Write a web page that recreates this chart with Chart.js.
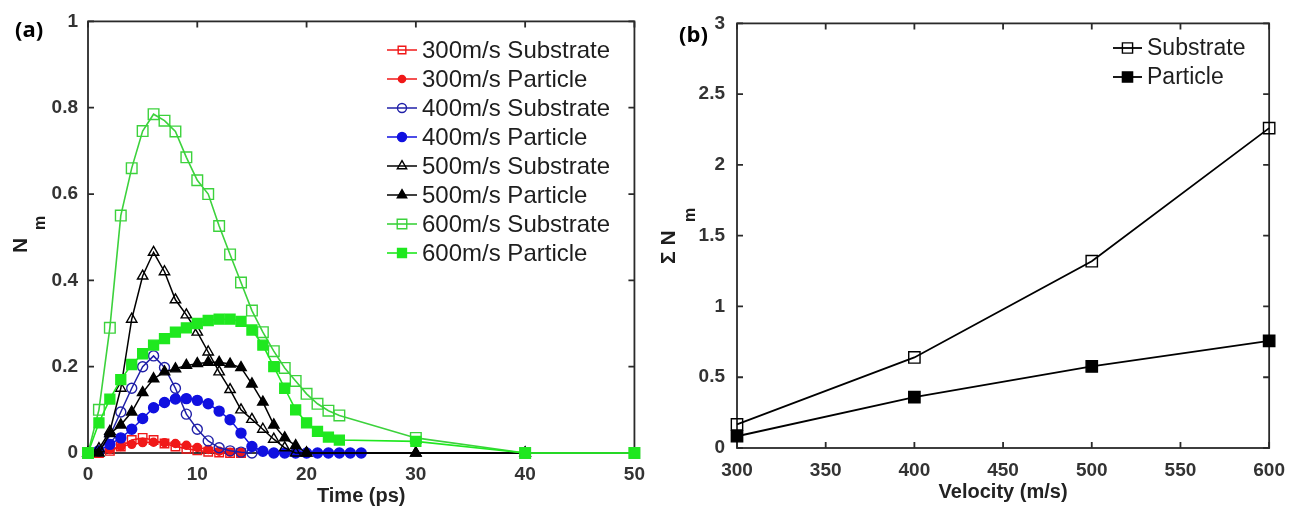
<!DOCTYPE html>
<html>
<head>
<meta charset="utf-8">
<script src="https://cdn.jsdelivr.net/npm/chart.js@4.4.1/dist/chart.umd.min.js"></script>
<style>
  html, body { margin: 0; padding: 0; background: #fff; }
  #wrap { position: relative; width: 1296px; height: 512px; overflow: hidden; }
  canvas { position: absolute; top: 0; }
  #chartA { left: 0; }
  #chartB { left: 655px; }
  .tag { position: absolute; font: bold 22px 'Open Sans', sans-serif; line-height: 22px; color: #000; }
</style>
</head>
<body>
<div id="wrap">
  <canvas id="chartA" width="655" height="512"></canvas>
  <canvas id="chartB" width="641" height="512"></canvas>
  <div class="tag" style="left:15px; top:17px;">(a)</div>
  <div class="tag" style="left:679px; top:22px;">(b)</div>
</div>
<script>
// (a) Nm vs time, one list of times per series
const time300 = [0, 1, 2, 3, 4, 5, 6, 7, 8, 9, 10, 11, 12, 13, 14];
const sub300 = [0, 0, 0.005, 0.015, 0.03, 0.035, 0.03, 0.022, 0.015, 0.01, 0.006, 0.003, 0.001, 0, 0];
const par300 = [0, 0, 0.008, 0.015, 0.02, 0.024, 0.025, 0.024, 0.022, 0.018, 0.013, 0.008, 0.004, 0.002, 0];

const time400sub = [0, 1, 2, 3, 4, 5, 6, 7, 8, 9, 10, 11, 12, 13, 14, 15];
const sub400 = [0, 0.005, 0.04, 0.095, 0.15, 0.2, 0.225, 0.198, 0.15, 0.09, 0.055, 0.028, 0.012, 0.005, 0.002, 0];
const time400par = [0, 1, 2, 3, 4, 5, 6, 7, 8, 9, 10, 11, 12, 13, 14, 15, 16, 17, 18, 19, 20, 21, 22, 23, 24, 25];
const par400 = [0, 0.005, 0.02, 0.035, 0.055, 0.08, 0.105, 0.117, 0.125, 0.126, 0.122, 0.114, 0.097, 0.077, 0.046, 0.015, 0.004, 0, 0, 0, 0, 0, 0, 0, 0, 0];

const time500 = [0, 1, 2, 3, 4, 5, 6, 7, 8, 9, 10, 11, 12, 13, 14, 15, 16, 17, 18, 19, 20, 30, 40];
const sub500 = [0, 0.01, 0.05, 0.15, 0.31, 0.41, 0.465, 0.42, 0.355, 0.32, 0.28, 0.234, 0.188, 0.147, 0.1, 0.078, 0.055, 0.032, 0.012, 0, 0, 0, 0];
const par500 = [0, 0, 0.045, 0.065, 0.095, 0.14, 0.172, 0.188, 0.195, 0.203, 0.207, 0.21, 0.21, 0.206, 0.198, 0.16, 0.118, 0.065, 0.035, 0.017, 0, 0, 0];

const time600 = [0, 1, 2, 3, 4, 5, 6, 7, 8, 9, 10, 11, 12, 13, 14, 15, 16, 17, 18, 19, 20, 21, 22, 23, 30, 40, 50];
const sub600 = [0, 0.1, 0.29, 0.55, 0.66, 0.746, 0.785, 0.77, 0.745, 0.685, 0.632, 0.6, 0.526, 0.46, 0.395, 0.33, 0.28, 0.236, 0.197, 0.167, 0.137, 0.114, 0.098, 0.087, 0.035, 0, 0];
const par600 = [0, 0.07, 0.125, 0.17, 0.205, 0.23, 0.25, 0.265, 0.28, 0.29, 0.3, 0.307, 0.31, 0.31, 0.305, 0.285, 0.25, 0.2, 0.15, 0.1, 0.07, 0.05, 0.037, 0.03, 0.027, 0, 0];

// (b) summed Nm vs velocity
const velocity = [300, 400, 500, 600];
const sumSub = [0.167, 0.64, 1.32, 2.26];
const sumPar = [0.083, 0.36, 0.576, 0.757];

const FONT = "'Liberation Sans', Arial, sans-serif";
const tickFont = { family: FONT, size: 19, weight: 'bold' };
const NONE = 'rgba(0,0,0,0)';

const pts = (xs, ys) => xs.map((x, i) => ({ x: x, y: ys[i] }));

function series(label, xs, ys, color, style, r, filled, order, lw) {
  return {
    label: label,
    data: pts(xs, ys),
    showLine: true,
    borderColor: color,
    borderWidth: lw,
    pointStyle: style,
    pointRadius: r,
    pointHoverRadius: r,
    pointBorderWidth: 1.4,
    pointBorderColor: color,
    pointBackgroundColor: filled ? color : NONE,
    tension: 0,
    clip: false,
    order: order
  };
}

function marker(ctx, style, x, y, r, fill, stroke, bw) {
  ctx.beginPath();
  if (style === 'rect') {
    const s = r * Math.SQRT1_2;
    ctx.rect(x - s, y - s, 2 * s, 2 * s);
  } else if (style === 'triangle') {
    for (let k = 0; k < 3; k++) {
      const a = k * 2 * Math.PI / 3;
      ctx.lineTo(x + Math.sin(a) * r, y - Math.cos(a) * r);
    }
    ctx.closePath();
  } else {
    ctx.arc(x, y, r, 0, Math.PI * 2);
  }
  if (fill !== NONE) { ctx.fillStyle = fill; ctx.fill(); }
  ctx.lineWidth = bw;
  ctx.strokeStyle = stroke;
  ctx.stroke();
}

// box around the plot with inward ticks on all four sides (matlab look)
const boxTicks = {
  id: 'boxTicks',
  beforeDatasetsDraw(chart) {
    const { ctx, chartArea: a, scales: { x, y } } = chart;
    ctx.save();
    ctx.strokeStyle = '#2a2a2a';
    ctx.lineWidth = 1.8;
    ctx.strokeRect(a.left, a.top, a.right - a.left, a.bottom - a.top);
    ctx.beginPath();
    x.ticks.forEach(t => {
      const px = x.getPixelForValue(t.value);
      ctx.moveTo(px, a.bottom); ctx.lineTo(px, a.bottom - 6);
      ctx.moveTo(px, a.top); ctx.lineTo(px, a.top + 6);
    });
    y.ticks.forEach(t => {
      const py = y.getPixelForValue(t.value);
      ctx.moveTo(a.left, py); ctx.lineTo(a.left + 6, py);
      ctx.moveTo(a.right, py); ctx.lineTo(a.right - 6, py);
    });
    ctx.stroke();
    ctx.restore();
  }
};

// legend: short line with marker, then label
const lineLegend = {
  id: 'lineLegend',
  afterDraw(chart, args, opts) {
    const ctx = chart.ctx;
    ctx.save();
    ctx.font = opts.size + 'px ' + FONT;
    ctx.textBaseline = 'middle';
    ctx.textAlign = 'left';
    chart.data.datasets.forEach((ds, i) => {
      const yy = opts.y + i * opts.dy;
      ctx.beginPath();
      ctx.moveTo(opts.x, yy);
      ctx.lineTo(opts.x + opts.w, yy);
      ctx.lineWidth = ds.borderWidth;
      ctx.strokeStyle = ds.borderColor;
      ctx.stroke();
      marker(ctx, ds.pointStyle, opts.x + opts.w / 2, yy, ds.pointRadius * 0.9,
        ds.pointBackgroundColor, ds.pointBorderColor, ds.pointBorderWidth);
      ctx.fillStyle = '#1e1e1e';
      ctx.fillText(ds.label, opts.x + opts.w + 5, yy + 1);
    });
    ctx.restore();
  }
};

// rotated y title with subscript m
const yTitle = {
  id: 'yTitle',
  afterDraw(chart, args, opts) {
    const ctx = chart.ctx;
    ctx.save();
    ctx.translate(opts.x, opts.y);
    ctx.rotate(-Math.PI / 2);
    ctx.fillStyle = '#1e1e1e';
    ctx.textAlign = 'left';
    ctx.textBaseline = 'alphabetic';
    ctx.font = 'bold 21px ' + FONT;
    ctx.fillText(opts.text, 0, 0);
    ctx.font = 'bold 16px ' + FONT;
    ctx.fillText('m', opts.subX, opts.subY);
    ctx.restore();
  }
};

// matlab style labels: 1 not 1.0, 2.5 stays 2.5
const shortNum = v => String(Number(v.toFixed(2)));

function axes(xMin, xMax, xStep, yMin, yMax, yStep, xTitle, yWidth, xHeight, xPad, yPad, titlePad) {
  return {
    x: {
      type: 'linear', min: xMin, max: xMax,
      ticks: { stepSize: xStep, font: tickFont, color: '#333', padding: xPad, maxRotation: 0, callback: shortNum },
      grid: { display: false, drawTicks: false },
      border: { display: false },
      title: { display: true, text: xTitle, color: '#222',
        font: { family: FONT, size: 20, weight: 'bold' }, padding: { top: 0, bottom: titlePad } },
      afterFit(s) { s.height = xHeight; }
    },
    y: {
      type: 'linear', min: yMin, max: yMax,
      ticks: { stepSize: yStep, font: tickFont, color: '#333', padding: yPad, callback: shortNum },
      grid: { display: false, drawTicks: false },
      border: { display: false },
      afterFit(s) { s.width = yWidth; }
    }
  };
}

const RED = '#f01818', BLUE_O = '#2020a8', BLUE_F = '#1010e0', BLACK = '#000000', GREEN_O = '#3cd23c', GREEN_F = '#1fe81f';

new Chart(document.getElementById('chartA'), {
  type: 'scatter',
  data: {
    datasets: [
      series('300m/s Substrate', time300, sub300, RED, 'rect', 6, false, 8, 1.5),
      series('300m/s Particle', time300, par300, RED, 'circle', 4, true, 7, 1.5),
      series('400m/s Substrate', time400sub, sub400, BLUE_O, 'circle', 5, false, 6, 1.5),
      series('400m/s Particle', time400par, par400, BLUE_F, 'circle', 5, true, 5, 1.5),
      series('500m/s Substrate', time500, sub500, BLACK, 'triangle', 6, false, 4, 1.5),
      series('500m/s Particle', time500, par500, BLACK, 'triangle', 6, true, 3, 1.5),
      series('600m/s Substrate', time600, sub600, GREEN_O, 'rect', 7.5, false, 2, 1.6),
      series('600m/s Particle', time600, par600, GREEN_F, 'rect', 7, true, 1, 1.6)
    ]
  },
  options: {
    responsive: false,
    devicePixelRatio: 1,
    animation: false,
    layout: { padding: { left: 0, top: 16, right: 15, bottom: 0 } },
    scales: axes(0, 50, 10, 0, 1, 0.2, 'Time (ps)', 88, 59, 10, 10, 4),
    plugins: {
      legend: { display: false },
      tooltip: { enabled: false },
      lineLegend: { x: 387, y: 50, dy: 29, w: 30, size: 24 },
      yTitle: { text: 'N', x: 27, y: 253, subX: 23, subY: 18 }
    }
  },
  plugins: [boxTicks, lineLegend, yTitle]
});

new Chart(document.getElementById('chartB'), {
  type: 'scatter',
  data: {
    datasets: [
      series('Substrate', velocity, sumSub, BLACK, 'rect', 8, false, 2, 1.8),
      series('Particle', velocity, sumPar, BLACK, 'rect', 8, true, 1, 1.8)
    ]
  },
  options: {
    responsive: false,
    devicePixelRatio: 1,
    animation: false,
    layout: { padding: { left: 0, top: 16, right: 24, bottom: 0 } },
    scales: axes(300, 600, 50, 0, 3, 0.5, 'Velocity (m/s)', 82, 64, 11, 12, 8),
    plugins: {
      legend: { display: false },
      tooltip: { enabled: false },
      lineLegend: { x: 458, y: 48, dy: 29, w: 29, size: 23 },
      yTitle: { text: 'Σ N', x: 20, y: 264, subX: 42, subY: 20 }
    }
  },
  plugins: [boxTicks, lineLegend, yTitle]
});
</script>
</body>
</html>
